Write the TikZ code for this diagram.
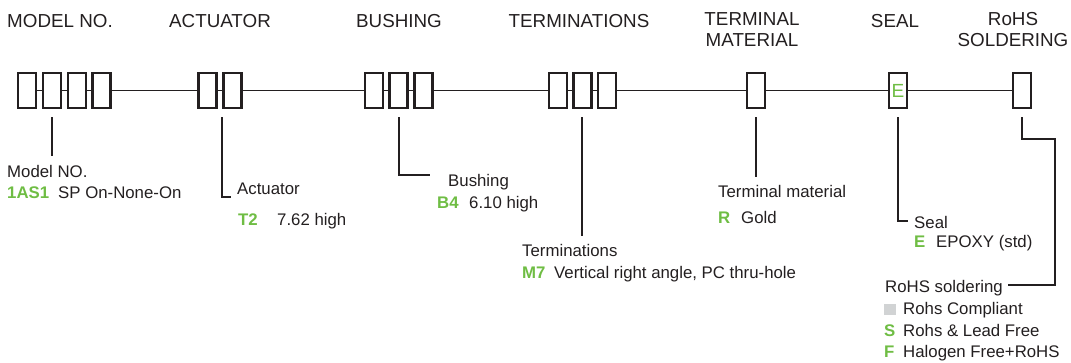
\documentclass[tikz,border=0pt]{standalone}
\usepackage{fontspec}
\setmainfont{Liberation Sans}
\definecolor{pickgreen}{RGB}{111,189,68}
\definecolor{inkdark}{RGB}{35,31,32}
\definecolor{softgrey}{RGB}{209,211,212}
\newcommand{\pick}[2]{\makebox[#1][l]{\textcolor{pickgreen}{\bfseries #2}}}

\begin{document}
\begin{tikzpicture}[x=1pt, y=-1pt,
    slot/.style={rectangle, draw=inkdark, line width=2.2pt, fill=white, minimum width=18pt, minimum height=35pt, inner sep=0pt},
    title/.style={inner sep=0pt, align=center, text=inkdark, font=\fontsize{18.8}{21}\selectfont},
    lbl/.style={anchor=base west, inner sep=0pt, text=inkdark, font=\fontsize{16.8}{20}\selectfont},
    trunk/.style={draw=inkdark, line width=1.8pt},
    lead/.style={draw=inkdark, line width=1.4pt}
]
\useasboundingbox (0,0) rectangle (1071,362);

% Headers
\node[title, anchor=base] (hmodel) at (60,27) {MODEL NO.};
\node[title, anchor=base] (hact) at (220,27) {ACTUATOR};
\node[title, anchor=base] (hbush) at (399,27) {BUSHING};
\node[title, anchor=base] (hterm) at (579,27) {TERMINATIONS};
\node[title, anchor=north] (hmat) at (752,12.5) {TERMINAL\\MATERIAL};
\node[title, anchor=base] (hseal) at (895,27) {SEAL};
\node[title, anchor=north] (hrohs) at (1013,12.5) {RoHS\\SOLDERING};

% Code boxes
\node[slot] (m1) at (27,90.5) {};
\node[slot] (m2) at (52,90.5) {};
\node[slot] (m3) at (77,90.5) {};
\node[slot] (m4) at (101.5,90.5) {};
\node[slot] (a1) at (207.5,90.5) {};
\node[slot] (a2) at (232.5,90.5) {};
\node[slot] (b1) at (374,90.5) {};
\node[slot] (b2) at (398.5,90.5) {};
\node[slot] (b3) at (423.5,90.5) {};
\node[slot] (t1) at (558,90.5) {};
\node[slot] (t2) at (582.5,90.5) {};
\node[slot] (t3) at (607,90.5) {};
\node[slot] (tm1) at (756,90.5) {};
\node[slot, text=pickgreen, font=\fontsize{19}{19}\selectfont] (s1) at (898,90.5) {E};
\node[slot] (r1) at (1022,90.5) {};

% Main line through the boxes
\draw[trunk] (m1.east) -- (m2.west) (m2.east) -- (m3.west) (m3.east) -- (m4.west);
\draw[trunk] (m4.east) -- (a1.west) (a1.east) -- (a2.west);
\draw[trunk] (a2.east) -- (b1.west) (b1.east) -- (b2.west) (b2.east) -- (b3.west);
\draw[trunk] (b3.east) -- (t1.west) (t1.east) -- (t2.west) (t2.east) -- (t3.west);
\draw[trunk] (t3.east) -- (tm1.west);
\draw[trunk] (tm1.east) -- (s1.west);
\draw[trunk] (s1.east) -- (r1.west);

% Leader end points
\coordinate (modeltop) at (52,117);
\coordinate (modelend) at (52,156);
\coordinate (acttop) at (222,117);
\coordinate (actend) at (231,197);
\coordinate (bushtop) at (399,117);
\coordinate (bushend) at (430,175);
\coordinate (termtop) at (582,117);
\coordinate (termend) at (582,236);
\coordinate (mattop) at (756,117);
\coordinate (matend) at (756,177);
\coordinate (sealtop) at (898,117);
\coordinate (sealend) at (908,221);
\coordinate (rohstop) at (1022,117);
\coordinate (rohsbend) at (1055,139);
\coordinate (rohsend) at (1008,285);

% Leaders
\draw[lead] (modeltop) -- (modelend);
\draw[lead] (acttop) |- (actend);
\draw[lead] (bushtop) |- (bushend);
\draw[lead] (termtop) -- (termend);
\draw[lead] (mattop) -- (matend);
\draw[lead] (sealtop) |- (sealend);
\draw[lead] (rohstop) |- (rohsbend) |- (rohsend);

% Option labels
\node[lbl] (lmodel) at (7,177) {Model NO.};
\node[lbl] (omodel) at (7,198) {\pick{51pt}{1AS1}SP On-None-On};
\node[lbl] (lact) at (237,194) {Actuator};
\node[lbl] (oact) at (238,225) {\pick{39pt}{T2}7.62 high};
\node[lbl] (lbush) at (448,186) {Bushing};
\node[lbl] (obush) at (437,208) {\pick{32pt}{B4}6.10 high};
\node[lbl] (lterm) at (522,256) {Terminations};
\node[lbl] (oterm) at (522,278) {\pick{32pt}{M7}Vertical right angle, PC thru-hole};
\node[lbl] (lmat) at (718,197) {Terminal material};
\node[lbl] (omat) at (718,223) {\pick{23pt}{R}Gold};
\node[lbl] (lseal) at (914,228) {Seal};
\node[lbl] (oseal) at (914,247) {\pick{22pt}{E}EPOXY (std)};
\node[lbl] (lrohs) at (885,292) {RoHS soldering};
\node[lbl] (orohs1) at (884,314) {\makebox[19pt][l]{\textcolor{softgrey}{\rule[-1pt]{12pt}{11pt}}}Rohs Compliant};
\node[lbl] (orohs2) at (884,336) {\pick{19pt}{S}Rohs \& Lead Free};
\node[lbl] (orohs3) at (884,357) {\pick{19pt}{F}Halogen Free+RoHS};

\end{tikzpicture}
\end{document}
